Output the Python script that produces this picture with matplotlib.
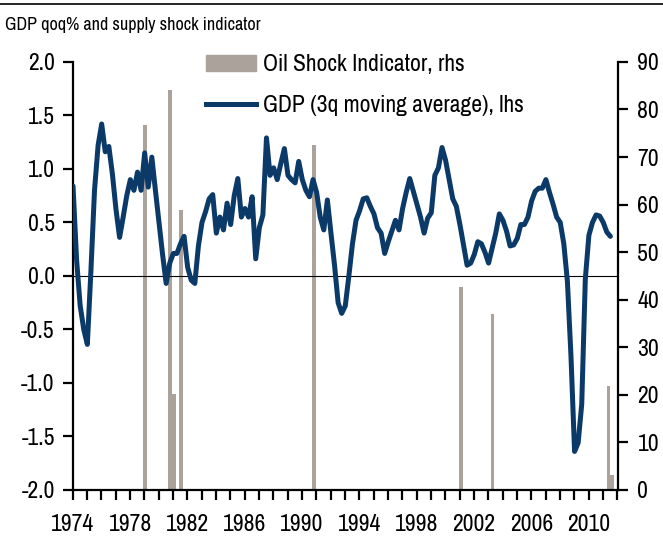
import numpy as np
import matplotlib
matplotlib.use("Agg")
import matplotlib.pyplot as plt
from matplotlib.patches import Patch
from matplotlib.lines import Line2D

# Quarterly GDP qoq% (3q moving average), 1974Q1 - 2011Q3
gdp_start = 1974.02
gdp = [0.84, 0.15, -0.28, -0.50, -0.64, 0.05, 0.80, 1.22, 1.42, 1.16,
       1.21, 0.95, 0.62, 0.36, 0.55, 0.75, 0.90, 0.80, 0.97, 0.80,
       1.15, 0.83, 1.11, 0.80, 0.50, 0.20, -0.07, 0.12, 0.21, 0.21,
       0.30, 0.37, 0.08, -0.04, -0.07, 0.28, 0.50, 0.60, 0.72, 0.76,
       0.40, 0.55, 0.43, 0.68, 0.48, 0.75, 0.91, 0.55, 0.63, 0.55,
       0.74, 0.16, 0.45, 0.57, 1.29, 0.94, 1.01, 0.90, 1.05, 1.19,
       0.94, 0.90, 0.87, 1.07, 0.90, 0.80, 0.74, 0.90, 0.78, 0.55,
       0.43, 0.71, 0.40, 0.10, -0.25, -0.35, -0.28, 0.00, 0.30, 0.52,
       0.61, 0.72, 0.73, 0.65, 0.58, 0.45, 0.40, 0.21, 0.32, 0.42,
       0.52, 0.43, 0.63, 0.78, 0.91, 0.79, 0.67, 0.55, 0.40, 0.54,
       0.59, 0.94, 1.01, 1.20, 1.08, 0.90, 0.72, 0.65, 0.48, 0.29,
       0.10, 0.12, 0.20, 0.32, 0.30, 0.22, 0.12, 0.26, 0.40, 0.58,
       0.52, 0.42, 0.28, 0.29, 0.35, 0.48, 0.48, 0.55, 0.70, 0.79,
       0.82, 0.82, 0.90, 0.78, 0.67, 0.55, 0.50, 0.30, -0.05, -0.75,
       -1.64, -1.56, -1.20, -0.03, 0.38, 0.50, 0.57, 0.56, 0.50, 0.41,
       0.37]
gdp_dates = gdp_start + 0.25 * np.arange(len(gdp))

# Oil shock indicator (rhs)
shock_dates = [1979.05, 1980.8, 1981.05, 1981.55, 1990.85, 2001.1, 2003.3, 2011.4, 2011.65]
shock_vals = [76.7, 84.0, 20.2, 58.9, 72.5, 42.6, 37.0, 21.9, 3.2]

year_ticks = list(range(1974, 2013))
year_labels = [str(y) if (y - 1974) % 4 == 0 and y < 2012 else "" for y in year_ticks]

navy = "#0b3a69"
grey = "#aba39b"

plt.rcParams["font.family"] = ["Archivo Narrow", "Roboto Condensed", "DejaVu Sans"]
plt.rcParams["axes.linewidth"] = 1.6

fig = plt.figure(figsize=(6.63, 5.42), dpi=100)
ax = fig.add_axes([0.1097, 0.096, 0.8224, 0.7898])
ax2 = ax.twinx()

ax2.bar(shock_dates, shock_vals, width=0.25, color=grey, zorder=1)
ax.set_zorder(ax2.get_zorder() + 1)
ax.patch.set_visible(False)
ax.plot(gdp_dates, gdp, color=navy, lw=3.6, solid_joinstyle="round",
        solid_capstyle="round", zorder=3)
ax.axhline(0, color="black", lw=0.8, zorder=2)

ax.set_xlim(1974, 2012.05)
ax.set_ylim(-2, 2)
ax2.set_ylim(0, 90)
ax.set_yticks(np.arange(-2, 2.01, 0.5))
ax.set_yticklabels([f"{v:.1f}" for v in np.arange(-2, 2.01, 0.5)])
ax2.set_yticks(range(0, 91, 10))
ax.set_xticks(year_ticks)
ax.set_xticklabels(year_labels)

for a in (ax, ax2):
    a.spines["top"].set_visible(False)
ax2.spines["left"].set_visible(False)
ax2.spines["bottom"].set_visible(False)
ax.spines["right"].set_visible(False)

ax.tick_params(axis="y", direction="out", length=7, width=1.6, labelsize=17, pad=6)
ax2.tick_params(axis="y", direction="out", length=7, width=1.6, labelsize=17, pad=7)
ax.tick_params(axis="x", direction="out", length=7, width=1.6, labelsize=17, pad=10)

handles = [Patch(color=grey), Line2D([], [], color=navy, lw=3.6)]
ax.legend(handles, ["Oil Shock Indicator, rhs", "GDP (3q moving average), lhs"],
          loc="upper left", bbox_to_anchor=(0.228, 1.04), frameon=False,
          fontsize=17, handlelength=2.1, handleheight=0.7, labelspacing=0.85,
          handletextpad=0.3, borderaxespad=0)

fig.text(0.008, 0.968, "GDP qoq% and supply shock indicator", fontsize=13,
         va="top", ha="left")
fig.add_artist(Line2D([0, 1], [0.9926, 0.9926], color="black", lw=1.2,
                      transform=fig.transFigure))

fig.savefig("out.png", dpi=100)
